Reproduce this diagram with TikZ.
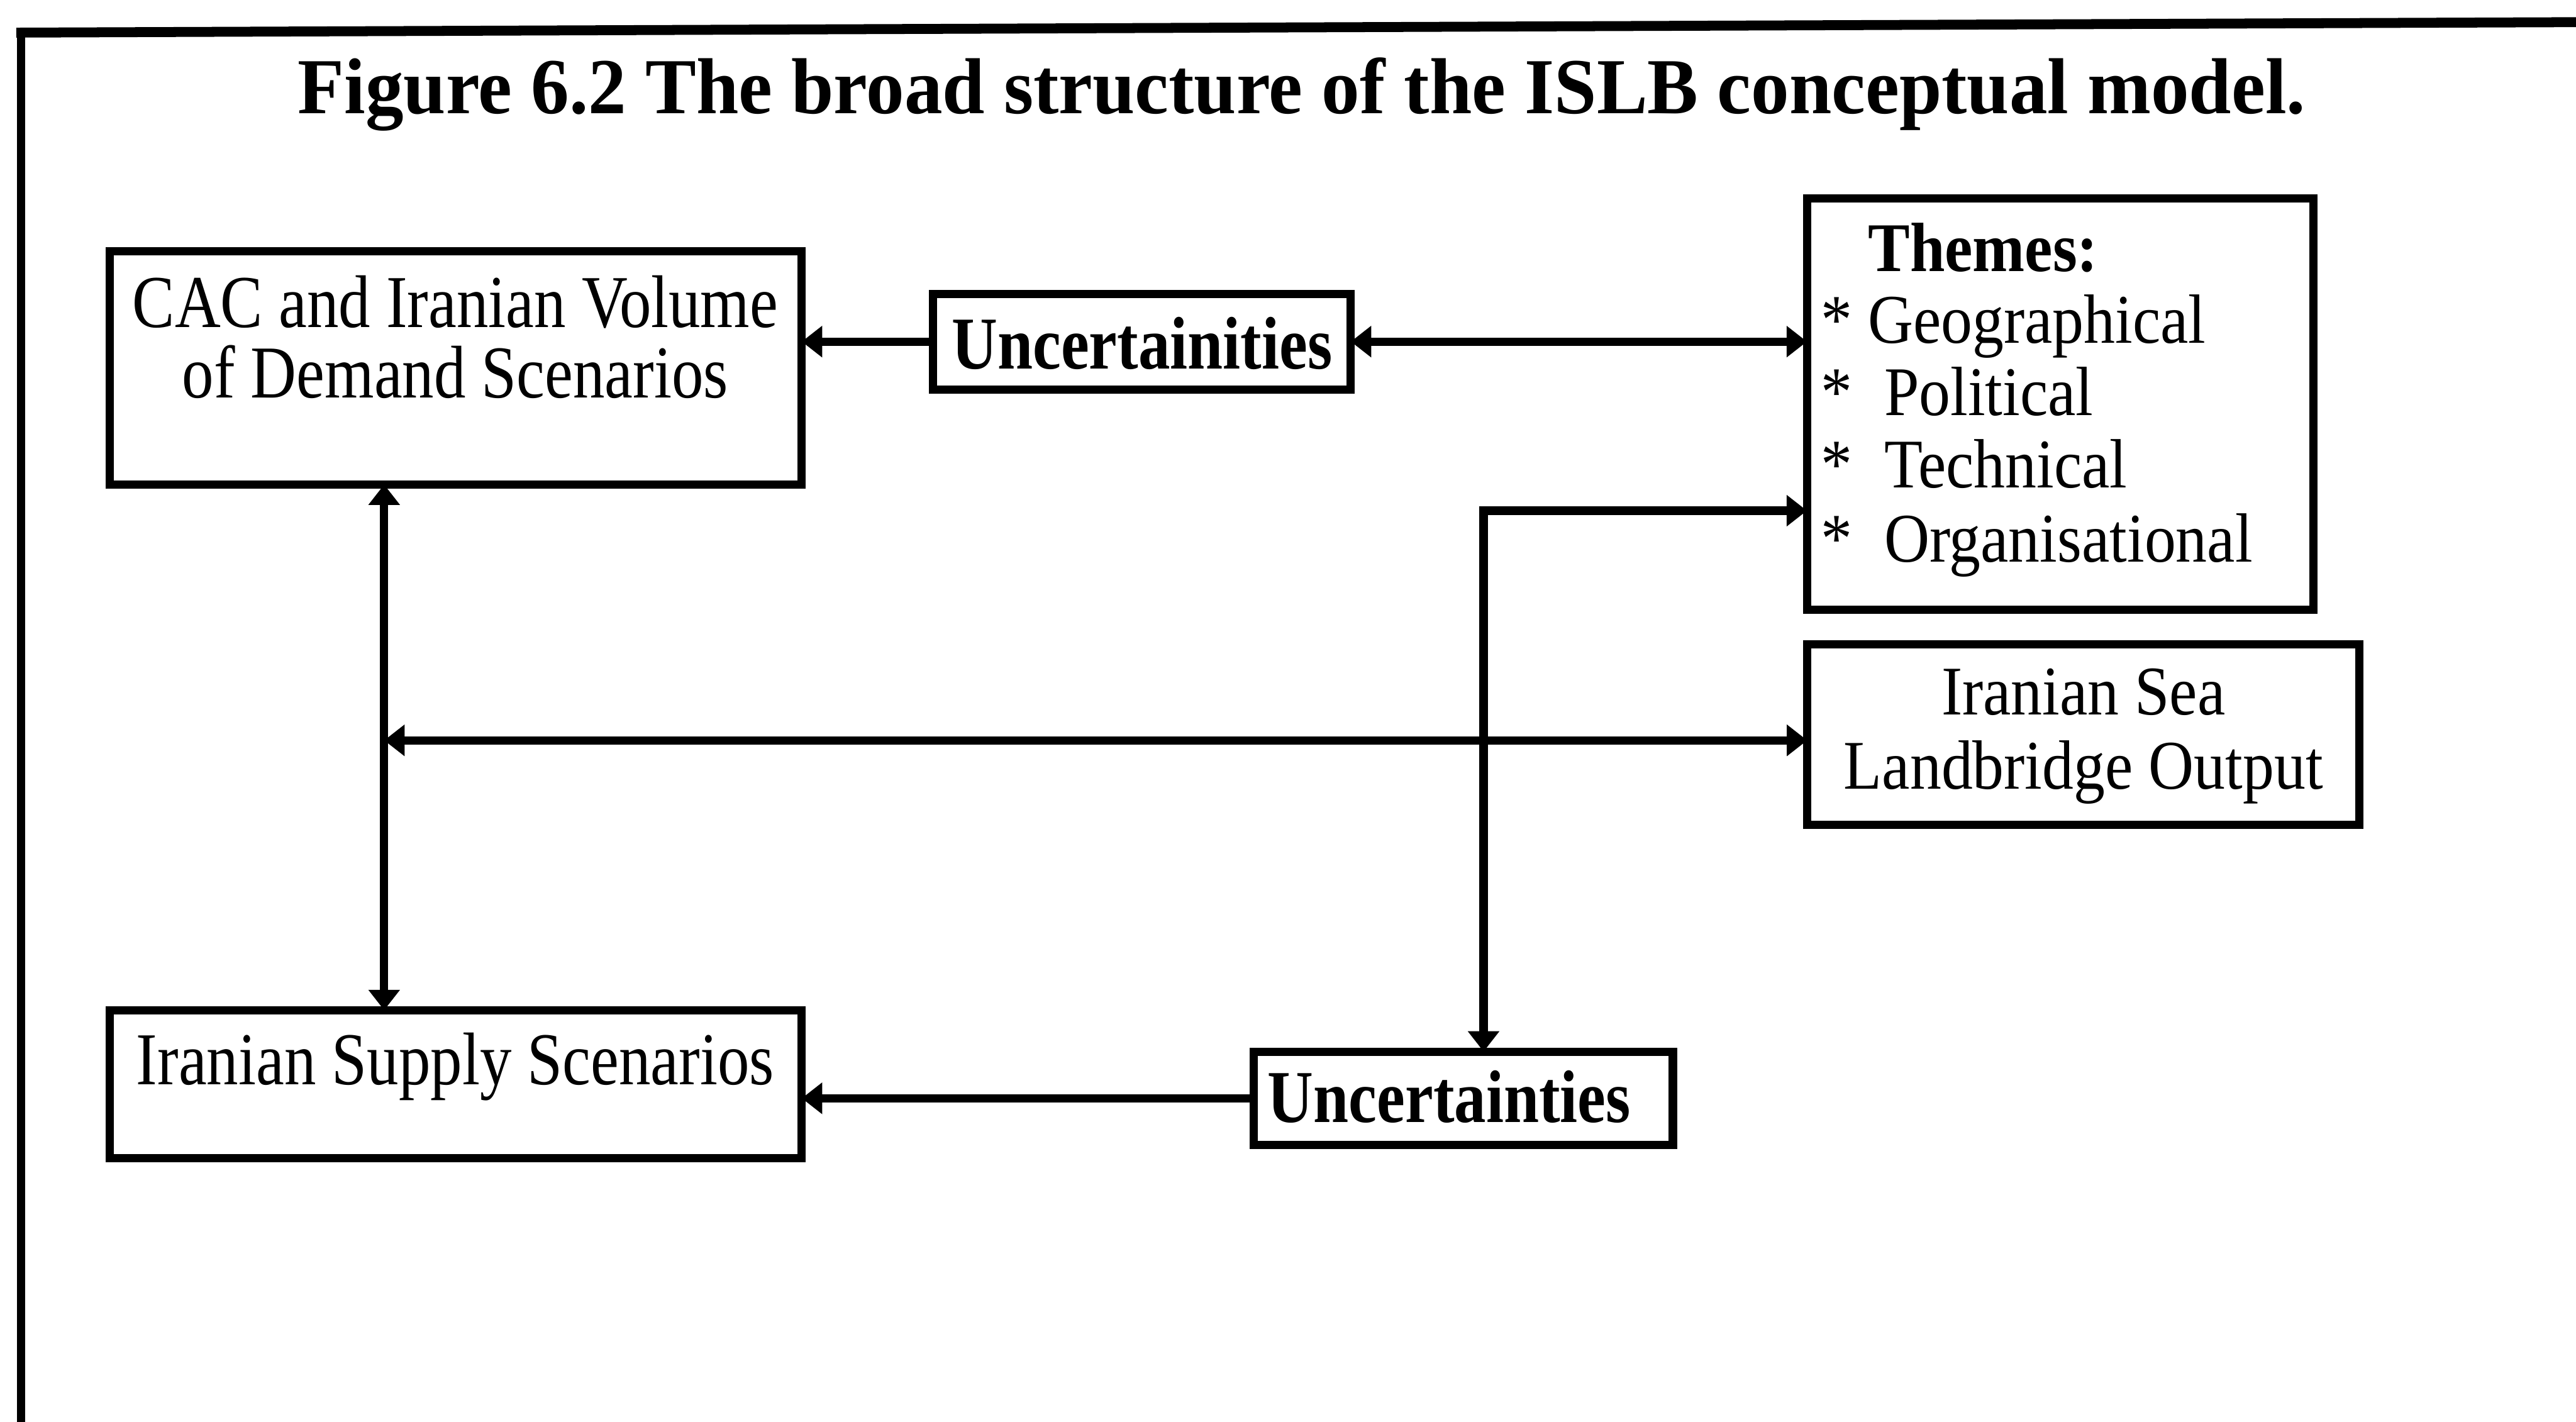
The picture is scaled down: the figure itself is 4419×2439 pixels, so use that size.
\documentclass[tikz,border=0pt]{standalone}
\usepackage{fontspec}
\setmainfont{Liberation Serif}
\newfontfamily\leftfont[FakeStretch=0.85]{Liberation Serif}
\newfontfamily\titlefont[FakeStretch=0.96]{Liberation Serif}
\newfontfamily\rightfont[FakeStretch=0.9]{Liberation Serif}
\usetikzlibrary{arrows.meta}
\begin{document}
\begin{tikzpicture}[x=0.01cm, y=-0.01cm,
  box/.style={draw, line width=4pt, inner sep=0pt, outer sep=0pt},
  conn/.style={line width=4pt},
  tip/.tip={Triangle[length=0.35cm, width=0.52cm]},
  lt/.style={font=\leftfont\fontsize{36.4}{36}\selectfont, inner sep=0pt, anchor=base},
  ltb/.style={font=\leftfont\bfseries\fontsize{36.4}{36}\selectfont, inner sep=0pt, anchor=base},
  rt/.style={font=\rightfont\fontsize{34}{34}\selectfont, inner sep=0pt, anchor=base},
  rtw/.style={font=\rightfont\fontsize{34}{34}\selectfont, inner sep=0pt, anchor=base west},
  rtbw/.style={font=\rightfont\bfseries\fontsize{34}{34}\selectfont, inner sep=0pt, anchor=base west}
]
\useasboundingbox (0,0) rectangle (4419,2439);
% frame
\draw[line width=17*0.2845pt] (28,56) -- (4419,38);
\draw[line width=14*0.2845pt] (36,48) -- (36,2439);
% title
\node[inner sep=0pt, anchor=base, font=\titlefont\bfseries\fontsize{38.7}{40}\selectfont] (title) at (2233,195)
  {Figure 6.2 The broad structure of the ISLB conceptual model.};
% boxes
\node[box, minimum width=11.86cm, minimum height=4.00cm] (cac) at (782,631) {};
\node[box, minimum width=7.16cm, minimum height=1.64cm] (unc1) at (1959,586) {};
\node[box, minimum width=8.68cm, minimum height=7.05cm] (themes) at (3534,693) {};
\node[box, minimum width=9.47cm, minimum height=3.10cm] (sea) at (3574,1260) {};
\node[box, minimum width=11.86cm, minimum height=2.54cm] (supply) at (782,1860) {};
\node[box, minimum width=7.19cm, minimum height=1.60cm] (unc2) at (2510,1884) {};
% texts
\node[lt] (cacA) at (781,561) {CAC and Iranian Volume};
\node[lt] (cacB) at (781,682) {of Demand Scenarios};
\node[ltb] (unc1t) at (1959,633) {Uncertainities};
\node[rtbw] (th0) at (3204,465) {Themes:};
\node[rtw] (th1) at (3123,589) {* Geographical};
\node[rtw] (th2) at (3123,713) {*\hspace{0.28cm} Political};
\node[rtw] (th3) at (3123,837) {*\hspace{0.28cm} Technical};
\node[rtw] (th4) at (3123,964) {*\hspace{0.28cm} Organisational};
\node[rt] (seaA) at (3574,1226) {Iranian Sea};
\node[rt] (seaB) at (3574,1353) {Landbridge Output};
\node[lt] (supt) at (781,1860) {Iranian Supply Scenarios};
\node[ltb] (unc2t) at (2486,1925) {Uncertainties};
% connectors
\coordinate (hleft) at (659,1270);
\coordinate (bend) at (2545,876);
\draw[conn, -{tip}] (unc1.west) -- (unc1.west -| cac.east);
\draw[conn, {tip}-{tip}] (unc1.east) -- (unc1.east -| themes.west);
\draw[conn, {tip}-{tip}] (cac.south -| hleft) -- (supply.north -| hleft);
\draw[conn, {tip}-{tip}] (hleft) -- (hleft -| sea.west);
\draw[conn, {tip}-{tip}] (bend -| themes.west) -- (bend) -- (bend |- unc2.north);
\draw[conn, -{tip}] (unc2.west) -- (unc2.west -| supply.east);
\end{tikzpicture}
\end{document}
